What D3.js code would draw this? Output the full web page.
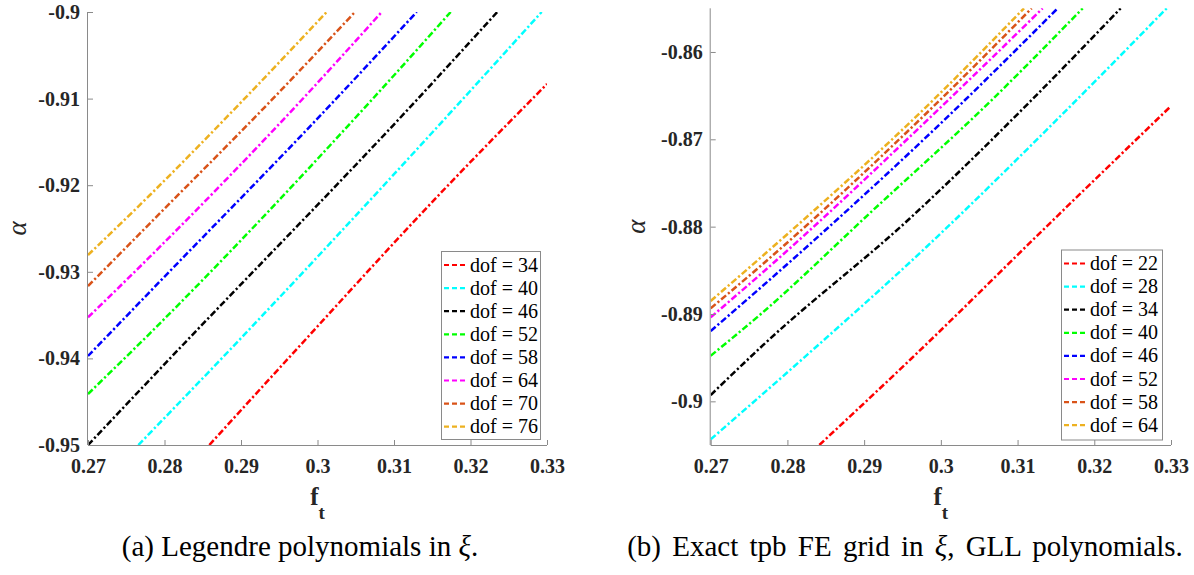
<!DOCTYPE html>
<html>
<head>
<meta charset="utf-8">
<script src="https://cdn.jsdelivr.net/npm/d3@7"></script>
<style>
  html, body { margin: 0; padding: 0; background: #fff; }
  svg { display: block; }
  text { font-family: "Liberation Serif", "Times New Roman", "DejaVu Serif", serif; }
</style>
</head>
<body>
<svg id="fig" width="1194" height="575"></svg>
<script>
// ---- data -------------------------------------------------------------
const ftTicks = [0.27, 0.28, 0.29, 0.30, 0.31, 0.32, 0.33];
const alphaTicksA = [-0.95, -0.94, -0.93, -0.92, -0.91, -0.90];
const alphaTicksB = [-0.90, -0.89, -0.88, -0.87, -0.86];

const seriesColors = ["#ff0000", "#00ffff", "#000000", "#00ff00",
                      "#0000ff", "#ff00ff", "#d95319", "#edb120"];

// (a) Legendre polynomials in xi
const dofA = [34, 40, 46, 52, 58, 64, 70, 76];
const ftA = [
  [0.28586, 0.29618, 0.31710, 0.33000],
  [0.27658, 0.28748, 0.31710, 0.32930],
  [0.27000, 0.28072, 0.31297, 0.32350],
  [0.27000, 0.27810, 0.30708, 0.31741],
  [0.27000, 0.27810, 0.30229, 0.31297],
  [0.27000, 0.27810, 0.29793, 0.30840],
  [0.27000, 0.27810, 0.29401, 0.30490],
  [0.27000, 0.27810, 0.29030, 0.30120]
];
const alphaA = [
  [-0.95000, -0.94000, -0.91998, -0.90831],
  [-0.95000, -0.94000, -0.91189, -0.90000],
  [-0.95000, -0.94000, -0.91016, -0.90000],
  [-0.94411, -0.93710, -0.91016, -0.90000],
  [-0.93972, -0.93230, -0.91016, -0.90000],
  [-0.93526, -0.92826, -0.91016, -0.90000],
  [-0.93164, -0.92440, -0.91016, -0.90000],
  [-0.92806, -0.92113, -0.91016, -0.90000]
];

// (b) exact tpb FE grid in xi, GLL polynomials
const dofB = [22, 28, 34, 40, 46, 52, 58, 64];
const ftB = [
  [0.28416, 0.29620, 0.31531, 0.33000],
  [0.27000, 0.28207, 0.29815, 0.31531, 0.32944],
  [0.27000, 0.27708, 0.29598, 0.31162, 0.32344],
  [0.27000, 0.27665, 0.29119, 0.30641, 0.31849],
  [0.27000, 0.27665, 0.30315, 0.31523],
  [0.27000, 0.27665, 0.30097, 0.31327],
  [0.27000, 0.27665, 0.29989, 0.31184],
  [0.27000, 0.27665, 0.29901, 0.31084]
];
const alphaB = [
  [-0.90500, -0.89507, -0.87867, -0.86619],
  [-0.90435, -0.89507, -0.88230, -0.86759, -0.85500],
  [-0.89928, -0.89336, -0.87904, -0.86569, -0.85500],
  [-0.89478, -0.88992, -0.87809, -0.86569, -0.85500],
  [-0.89195, -0.88688, -0.86550, -0.85500],
  [-0.89038, -0.88534, -0.86550, -0.85500],
  [-0.88935, -0.88439, -0.86550, -0.85500],
  [-0.88851, -0.88344, -0.86550, -0.85500]
];

// ---- drawing ----------------------------------------------------------
const svg = d3.select("#fig");
const serif = '"Liberation Serif", "Times New Roman", "DejaVu Serif", serif';
const axisColor = "#8a8a8a";
const labelColor = "#262626";
const dashPattern = "6.5,2.5,2.2,2.5";

function fmt(v) { return String(+v.toFixed(2)); }

function panel(cfg) {
  const x = d3.scaleLinear().domain([0.27, 0.33]).range([cfg.left, cfg.right]);
  const y = d3.scaleLinear().domain(cfg.yDomain).range([cfg.bottom, cfg.top]);
  const g = svg.append("g");

  const clipId = "clip-" + cfg.id;
  svg.append("defs").append("clipPath").attr("id", clipId)
    .append("rect")
    .attr("x", cfg.left).attr("y", cfg.top)
    .attr("width", cfg.right - cfg.left).attr("height", cfg.bottom - cfg.top);

  // series
  const line = d3.line().x(d => x(d[0])).y(d => y(d[1])).curve(d3.curveMonotoneX);
  const lines = g.append("g").attr("clip-path", `url(#${clipId})`);
  cfg.ft.forEach((xs, i) => {
    const pts = xs.map((v, j) => [v, cfg.alpha[i][j]]);
    lines.append("path")
      .datum(pts)
      .attr("d", line)
      .attr("fill", "none")
      .attr("stroke", seriesColors[i])
      .attr("stroke-width", 2.5)
      .attr("stroke-dasharray", dashPattern);
  });

  // axes (ticks point inward)
  const xAxis = d3.axisBottom(x).tickValues(ftTicks).tickSize(-5).tickPadding(14).tickFormat(fmt);
  const yAxis = d3.axisLeft(y).tickValues(cfg.yTicks).tickSize(-5).tickPadding(8).tickFormat(fmt);

  const gx = g.append("g").attr("transform", `translate(0,${cfg.bottom})`).call(xAxis);
  const gy = g.append("g").attr("transform", `translate(${cfg.left},0)`).call(yAxis);
  [gx, gy].forEach(a => {
    a.attr("font-family", serif).attr("font-size", 20).attr("font-weight", "bold");
    a.select(".domain").attr("stroke", axisColor).attr("stroke-width", 1)
      .attr("d", a === gx ? `M${cfg.left},0.5H${cfg.right}` : `M-0.5,${cfg.bottom}V${cfg.top}`);
    a.selectAll(".tick line").attr("stroke", axisColor);
    a.selectAll(".tick text")
      .attr("fill", labelColor)
      .style("font-family", serif)
      .style("font-weight", "bold")
      .style("font-size", "20px");
  });

  // axis labels
  const xl = g.append("text")
    .attr("x", (cfg.left + cfg.right) / 2)
    .attr("y", cfg.bottom + 60)
    .attr("text-anchor", "middle")
    .attr("fill", labelColor)
    .style("font-weight", "bold")
    .style("font-size", "25px");
  xl.append("tspan").text("f");
  xl.append("tspan").attr("dy", 14).style("font-size", "19px").text("t");

  g.append("text")
    .attr("transform", `translate(${cfg.alphaX},${(cfg.top + cfg.bottom) / 2}) rotate(-90)`)
    .attr("text-anchor", "middle")
    .attr("fill", labelColor)
    .style("font-style", "italic")
    .style("font-size", "27px")
    .text("α");

  // legend
  const lg = g.append("g").attr("transform", `translate(${cfg.legend[0]},${cfg.legend[1]})`);
  lg.append("rect")
    .attr("x", 0.5).attr("y", 0.5)
    .attr("width", cfg.legend[2]).attr("height", cfg.legend[3])
    .attr("fill", "#fff").attr("stroke", axisColor).attr("stroke-width", 1);
  cfg.dof.forEach((d, i) => {
    const cy = 14 + i * 23.1;
    lg.append("line")
      .attr("x1", 3).attr("x2", 27).attr("y1", cy).attr("y2", cy)
      .attr("stroke", seriesColors[i]).attr("stroke-width", 2.2)
      .attr("stroke-dasharray", "5,3");
    lg.append("text")
      .attr("x", 29).attr("y", cy + 6.5)
      .attr("fill", "#000")
      .style("font-size", "20px")
      .text(`dof = ${d}`);
  });

  // caption
  const cap = svg.append("text")
    .attr("x", cfg.captionX).attr("y", 556)
    .attr("text-anchor", "middle")
    .attr("fill", "#000")
    .style("font-size", "29px")
    .style("word-spacing", cfg.captionSpacing + "px");
  cfg.caption.forEach(part => {
    cap.append("tspan").style("font-style", part[1] ? "italic" : "normal").text(part[0]);
  });
}

panel({
  id: "a", left: 88, right: 547, top: 12, bottom: 445,
  yDomain: [-0.95, -0.90], yTicks: alphaTicksA,
  ft: ftA, alpha: alphaA, dof: dofA,
  alphaX: 26,
  legend: [441, 251, 99, 188],
  captionX: 300, captionSpacing: 0,
  caption: [["(a) Legendre polynomials in ", false], ["ξ", true], [".", false]]
});

panel({
  id: "b", left: 710.7, right: 1171, top: 8.3, bottom: 445,
  yDomain: [-0.905, -0.855], yTicks: alphaTicksB,
  ft: ftB, alpha: alphaB, dof: dofB,
  alphaX: 645,
  legend: [1061, 249.5, 101, 190],
  captionX: 905, captionSpacing: 4,
  caption: [["(b) Exact tpb FE grid in ", false], ["ξ", true], [", GLL polynomials.", false]]
});
</script>
</body>
</html>
